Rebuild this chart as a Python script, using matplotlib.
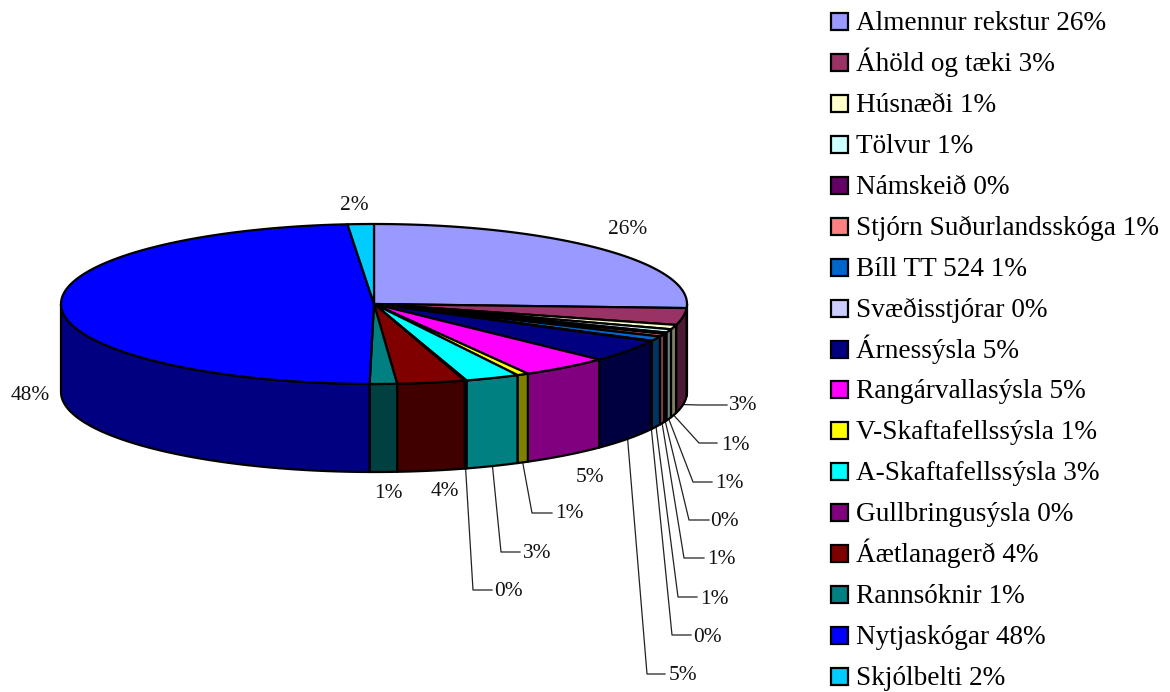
import numpy as np
import matplotlib
matplotlib.use("Agg")
import matplotlib.pyplot as plt
from matplotlib.patches import Polygon, Rectangle
from matplotlib.colors import to_rgb

categories = ["Almennur rekstur", "Áhöld og tæki", "Húsnæði", "Tölvur", "Námskeið",
              "Stjórn Suðurlandsskóga", "Bíll TT 524", "Svæðisstjórar", "Árnessýsla",
              "Rangárvallasýsla", "V-Skaftafellssýsla", "A-Skaftafellssýsla",
              "Gullbringusýsla", "Áætlanagerð", "Rannsóknir", "Nytjaskógar", "Skjólbelti"]
values = [25.8, 3.4, 0.9, 0.7, 0.3, 0.55, 0.95, 0.1, 4.5, 4.6, 0.6, 2.8, 0.1, 3.5, 1.4, 48.4, 1.35]
percent_labels = [26, 3, 1, 1, 0, 1, 1, 0, 5, 5, 1, 3, 0, 4, 1, 48, 2]
colors = ["#9999FF", "#993366", "#FFFFCC", "#CCFFFF", "#660066", "#FF8080", "#0066CC", "#CCCCFF",
          "#000080", "#FF00FF", "#FFFF00", "#00FFFF", "#800080", "#800000", "#008080", "#0000FF", "#00CCFF"]

# layout (pixels)
label_pos = [(628, 228), (743.5, 404), (735, 443), (729, 482), (724.5, 519), (721, 558), (714, 597),
             (707, 635), (683, 673), (590, 475), (569, 512), (537, 551), (508, 589), (445, 490),
             (388, 491), (30, 393), (354.5, 203)]
elbows = [None, (700, 405), (699, 443), (693, 482), (689, 520), (684, 558), (678, 597),
          (672, 635), (647, 674), None, (532, 513), (501, 552), (473, 590), None, None, None, None]
ends = [None, (727, 405), (717, 443), (712, 482), (709, 520), (704, 558), (697, 597),
        (691, 635), (665, 674), None, (552, 513), (520, 552), (492, 590), None, None, None, None]
CX, CY, RX, RY, DEPTH = 374, 304, 313, 80, 88
LEG_X, LEG_Y0, LEG_STEP, LEG_BOX = 831, 13, 40.94, 17

plt.rcParams["font.family"] = ["Liberation Serif", "DejaVu Serif"]
fig = plt.figure(figsize=(11.70, 6.92), dpi=100)
ax = fig.add_axes([0, 0, 1, 1])
ax.set_xlim(0, 1170)
ax.set_ylim(692, 0)
ax.axis("off")

vals = np.array(values)
edges = np.concatenate([[0], np.cumsum(vals) / vals.sum() * 360])
LW = 1.6


def rim(theta_deg, dy=0):
    t = np.radians(theta_deg)
    return np.column_stack([CX + RX * np.sin(t), CY - RY * np.cos(t) + dy])


# outer wall (front half only)
for a, b, c in zip(edges[:-1], edges[1:], colors):
    lo, hi = max(a, 90), min(b, 270)
    if hi <= lo:
        continue
    th = np.linspace(lo, hi, 60)
    pts = np.vstack([rim(th), rim(th[::-1], DEPTH)])
    dark = tuple(v * 0.5 for v in to_rgb(c))
    ax.add_patch(Polygon(pts, closed=True, fc=dark, ec="black", lw=LW, joinstyle="round", zorder=2))

# top face
for a, b, c in zip(edges[:-1], edges[1:], colors):
    th = np.linspace(a, b, max(int(b - a) * 3, 4))
    pts = np.vstack([[[CX, CY]], rim(th)])
    ax.add_patch(Polygon(pts, closed=True, fc=c, ec="black", lw=LW, joinstyle="round", zorder=3))

# labels and leader lines
mids = (edges[:-1] + edges[1:]) / 2
for m, p, pos, el, en in zip(mids, percent_labels, label_pos, elbows, ends):
    ax.text(pos[0], pos[1] + 2, f"{p}%", fontsize=15.4, ha="center", va="center", color="#111111", zorder=5)
    if el is not None:
        start = rim(m, DEPTH)[0]
        ax.plot([start[0], el[0], en[0]], [start[1], el[1], en[1]], color="#222222", lw=0.9, zorder=1)

# legend
for i, (n, p, c) in enumerate(zip(categories, percent_labels, colors)):
    y = LEG_Y0 + i * LEG_STEP
    ax.add_patch(Rectangle((LEG_X, y), LEG_BOX, LEG_BOX, fc=c, ec="black", lw=LW, zorder=4))
    ax.text(856, y + 17, f"{n} {p}%", fontsize=19.6, ha="left", va="baseline", color="black", zorder=5)

fig.savefig("out.png", dpi=100)
